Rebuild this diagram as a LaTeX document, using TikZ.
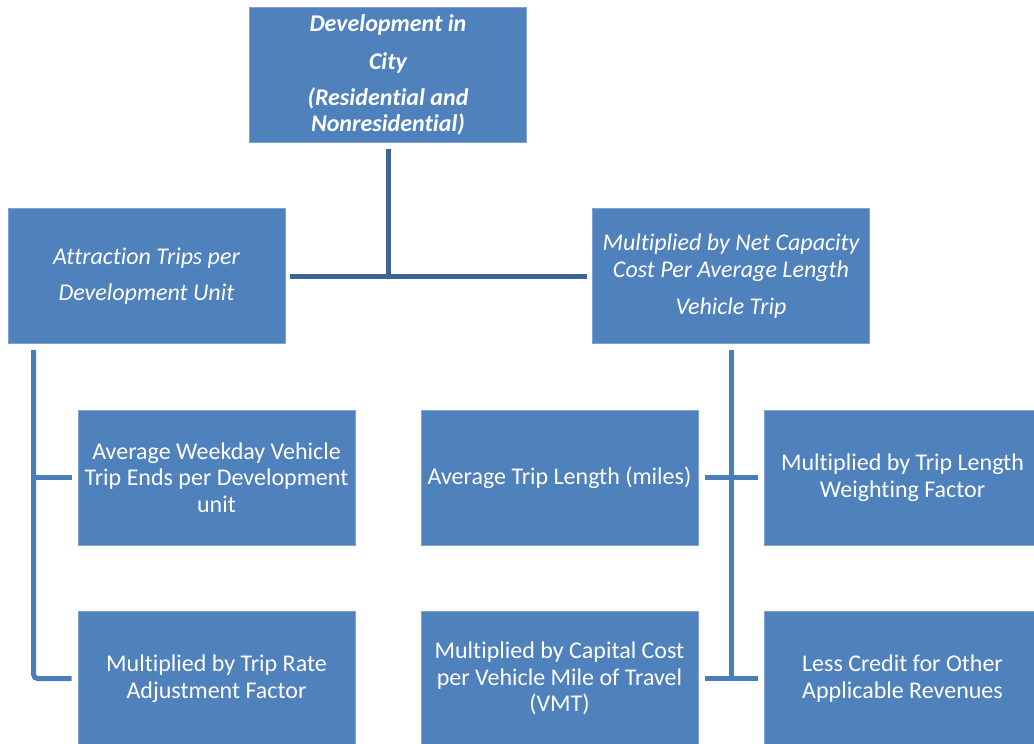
\documentclass[tikz,border=0pt]{standalone}
\usepackage{fontspec}
\setmainfont[Ligatures=NoCommon]{Carlito}
\usetikzlibrary{calc}
\definecolor{boxfill}{HTML}{4F81BD}
\definecolor{boxedge}{HTML}{7FA2CF}
\definecolor{trunk}{HTML}{3C6494}
\definecolor{branch}{HTML}{4A7EBB}
\newcommand{\boxfont}{\fontsize{24}{26.5}\selectfont}
\tikzset{
  box/.style={rectangle, fill=boxfill, draw=boxedge, line width=0.8pt,
    minimum width=277pt, minimum height=135pt, inner sep=0pt,
    text=white, align=center, font=\boxfont},
  trunkline/.style={draw=trunk, line width=5pt},
  branchline/.style={draw=branch, line width=5pt},
}
\begin{document}
\begin{tikzpicture}[x=1pt, y=-1pt]
\useasboundingbox (0,0) rectangle (1034,744);
\clip (0,0) rectangle (1034,744);
% top of the hierarchy
\node[box, font=\boxfont\bfseries\itshape] (dev) at (388,75)
  {Development in\\[11.5pt]City\\[9.5pt](Residential and\\Nonresidential)};
% second level
\node[box, font=\boxfont\itshape] (attr) at (146.5,276)
  {Attraction Trips per\\[9.5pt]Development Unit};
\node[box, font=\boxfont\itshape] (net) at (731,276)
  {Multiplied by Net Capacity\\Cost Per Average Length\\[10.5pt]Vehicle Trip};
% left column
\node[box] (avg) at (216.5,477.5) {Average Weekday Vehicle\\Trip Ends per Development\\unit};
\node[box] (rate) at (216.5,678.5) {Multiplied by Trip Rate\\Adjustment Factor};
% right columns
\node[box] (len) at (559.5,477.5) {Average Trip Length (miles)};
\node[box] (weight) at (902.5,477.5) {Multiplied by Trip Length\\Weighting Factor};
\node[box] (vmt) at (559.5,678.5) {Multiplied by Capital Cost\\per Vehicle Mile of Travel\\(VMT)};
\node[box] (credit) at (902.5,678.5) {Less Credit for Other\\Applicable Revenues};
% junction points
\coordinate (hub) at (dev.south |- attr.east);
\coordinate (lv) at ($(attr.south west)+(26,0)$);
% top connectors
\draw[trunkline, shorten <=6pt] (dev.south) -- (hub);
\draw[trunkline, shorten <=5pt, shorten >=5pt] (attr.east) -- (net.west);
% left connectors
\draw[branchline, rounded corners=4pt, shorten <=6pt, shorten >=6pt]
  (lv) -- (lv |- rate.west) -- (rate.west);
\draw[branchline, shorten >=6pt] (lv |- avg.west) -- (avg.west);
% right connectors
\draw[branchline, shorten <=6pt] (net.south) -- (net.south |- vmt.east);
\draw[branchline, shorten <=7pt, shorten >=6pt] (len.east) -- (weight.west);
\draw[branchline, shorten <=7pt, shorten >=6pt] (vmt.east) -- (credit.west);
\end{tikzpicture}
\end{document}
